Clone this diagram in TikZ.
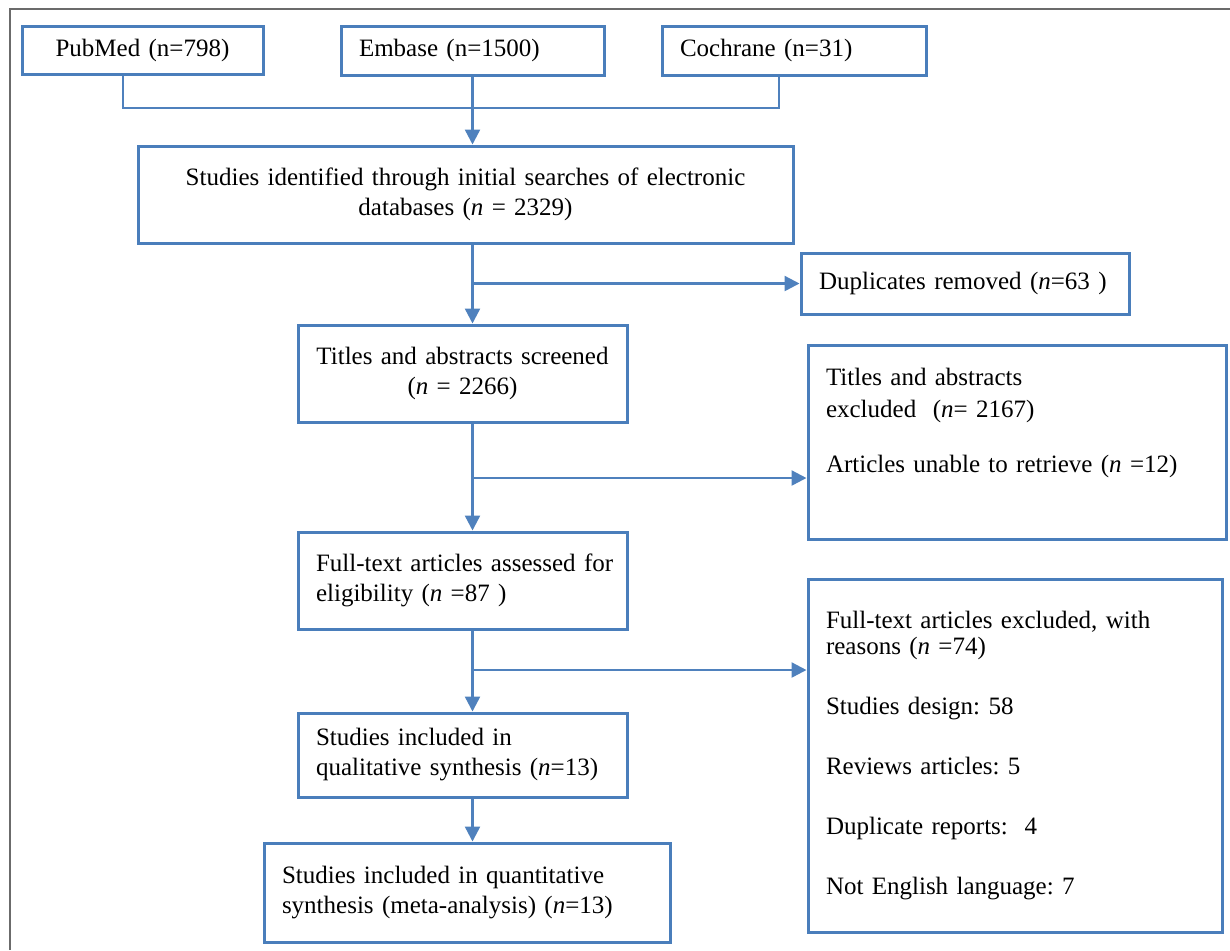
\documentclass[tikz,border=0pt]{standalone}
\usepackage{fontspec}
\setmainfont{Liberation Serif}
\usepackage{xcolor}
\usepackage{tikz}
\usetikzlibrary{positioning, arrows.meta, calc}
\definecolor{boxblue}{HTML}{4A7EBB}
\definecolor{lineblue}{HTML}{4F81BD}
\definecolor{framegray}{HTML}{6B6B6B}
\tikzstyle{box} = [rectangle, draw=boxblue, line width=1.5pt, fill=white, inner xsep=9pt, inner ysep=0pt, font=\fontsize{12.5}{15}\selectfont\frenchspacing, align=left]
\tikzstyle{cbox} = [box, align=center]
\tikzstyle{line} = [draw=lineblue, line width=1.2pt, -{Triangle[length=7.5pt, width=7.5pt]}]
\tikzstyle{link} = [draw=lineblue, line width=1.2pt]

\begin{document}
\begin{tikzpicture}[x=0.5pt, y=-0.5pt]
        \useasboundingbox (0,0) rectangle (1230,950);
        \draw[framegray, line width=1.2pt] (10,950) -- (10,9) -- (1230,9);

        % Sources
        \node (pubmed) [cbox, text width=102.5pt, minimum height=24pt] at (142.5,50) {PubMed (n=798)};
        \node (embase) [box, text width=113.5pt, minimum height=24.5pt] at (472.5,50.5) {Embase (n=1500)};
        \node (cochrane) [box, text width=114pt, minimum height=24.5pt] at (794,50.5) {Cochrane (n=31)};

        % Main column
        \node (ident) [cbox, text width=309.5pt, minimum height=48.5pt] at (465.5,194.5) {Studies identified through initial searches of electronic\\databases (\textit{n} = 2329)};
        \node (screen) [cbox, text width=146.5pt, minimum height=48.5pt] at (462.5,373.5) {Titles and abstracts screened\\(\textit{n} = 2266)};
        \node (fulltext) [box, text width=146.5pt, minimum height=48.5pt] at (462.5,580.5) {\mbox{Full-text articles assessed for}\\eligibility (\textit{n} =87 )};
        \node (qual) [box, text width=146.5pt, minimum height=42pt] at (462.5,755) {Studies included in\\qualitative synthesis (\textit{n}=13)};
        \node (quant) [box, text width=185pt, minimum height=49.5pt] at (467,892.5) {Studies included in quantitative\\synthesis (meta-analysis) (\textit{n}=13)};

        % Exclusions
        \node (dup) [box, text width=146pt, minimum height=30.5pt] at (965,283.5) {Duplicates removed (\textit{n}=63 )};
        \node (excl1) [box, text width=191pt, minimum height=97pt, text depth=65pt] at (1017,442) {Titles and abstracts\\[1pt]excluded\ \ (\textit{n}= 2167)\\[12.5pt]Articles unable to retrieve (\textit{n} =12)};
        \node (excl2) [box, text width=189pt, minimum height=176.5pt] at (1015,755.5) {Full-text articles excluded, with\\[-2pt]reasons (\textit{n} =74)\\[15pt]Studies design: 58\\[15pt]Reviews articles: 5\\[15pt]Duplicate reports:\ \ 4\\[15pt]Not English language: 7};

        \coordinate (join) at (472.5,108);
        \coordinate (split1) at (472.5,478);
        \coordinate (split2) at (472.5,670);

        % Edges
        \path [link] ([xshift=-9.75pt]pubmed.south) |- (join);
        \path [link] ([xshift=-7.5pt]cochrane.south) |- (join);
        \path [line] (embase.south) -- (embase.south |- ident.north);
        \path [line] (embase.south |- ident.south) -- (embase.south |- screen.north);
        \path [line] (embase.south |- dup.west) -- (dup.west);
        \path [line] (embase.south |- screen.south) -- (embase.south |- fulltext.north);
        \path [line] (split1) -- (split1 -| excl1.west);
        \path [line] (embase.south |- fulltext.south) -- (embase.south |- qual.north);
        \path [line] (split2) -- (split2 -| excl2.west);
        \path [line] (embase.south |- qual.south) -- (embase.south |- quant.north);

    \end{tikzpicture}
\end{document}
